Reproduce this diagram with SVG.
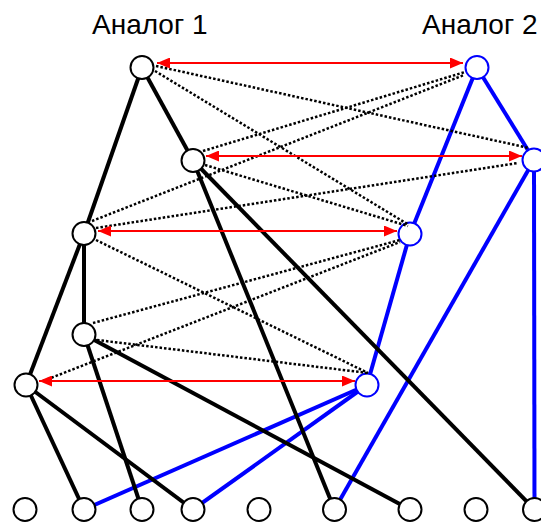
<svg xmlns="http://www.w3.org/2000/svg" width="541" height="522" viewBox="0 0 541 522">
  <style>
    .title { font-family: "Liberation Sans", Arial, sans-serif; font-size: 28px; fill: #000; }
    .edge-a { stroke: #000; stroke-width: 4; fill: none; }
    .edge-b { stroke: #0000ff; stroke-width: 4; fill: none; }
    .node-a { fill: #fff; stroke: #000; stroke-width: 2; }
    .node-b { fill: #fff; stroke: #0000ff; stroke-width: 2; }
    .cand { stroke: #000; stroke-width: 2.5; stroke-dasharray: 2.5 2; fill: none; }
    .map { stroke: #ff0000; stroke-width: 2; fill: none; marker-start: url(#head); marker-end: url(#head); }
  </style>
  <defs>
    <marker id="head" markerUnits="userSpaceOnUse" viewBox="0 0 13 11" refX="13" refY="5.5" markerWidth="13" markerHeight="11" orient="auto-start-reverse">
      <path d="M0,0 L13,5.5 L0,11 z" fill="#ff0000"/>
    </marker>
  </defs>

  <rect width="541" height="522" fill="#fff"/>

  <g id="labels">
    <text class="title" x="92" y="34">Аналог 1</text>
    <text class="title" x="422" y="34">Аналог 2</text>
  </g>

  <!-- tree edges -->
  <g id="edges">
    <g id="edges-tree2">
      <line class="edge-b" x1="477" y1="67.5" x2="534" y2="160"/>
      <line class="edge-b" x1="477" y1="67.5" x2="410" y2="234"/>
      <line class="edge-b" x1="410" y1="234" x2="367" y2="385"/>
      <line class="edge-b" x1="367" y1="385" x2="84" y2="509.5"/>
      <line class="edge-b" x1="367" y1="385" x2="193" y2="509.5"/>
      <line class="edge-b" x1="534" y1="160" x2="334.5" y2="509.5"/>
      <line class="edge-b" x1="534" y1="160" x2="534.5" y2="509.5"/>
    </g>
    <g id="edges-tree1">
      <line class="edge-a" x1="142" y1="67.5" x2="84" y2="233.5"/>
      <line class="edge-a" x1="142" y1="67.5" x2="193" y2="160.5"/>
      <line class="edge-a" x1="84" y1="233.5" x2="84" y2="334.5"/>
      <line class="edge-a" x1="84" y1="233.5" x2="26" y2="385"/>
      <line class="edge-a" x1="193" y1="160.5" x2="334.5" y2="509.5"/>
      <line class="edge-a" x1="193" y1="160.5" x2="534.5" y2="509.5"/>
      <line class="edge-a" x1="84" y1="334.5" x2="142" y2="509.5"/>
      <line class="edge-a" x1="84" y1="334.5" x2="410" y2="509.5"/>
      <line class="edge-a" x1="26" y1="385" x2="84" y2="509.5"/>
      <line class="edge-a" x1="26" y1="385" x2="193" y2="509.5"/>
    </g>
  </g>

  <!-- inner nodes of tree 1 -->
  <g id="a1"><circle class="node-a" cx="142" cy="67.5" r="11.5"/></g>
  <g id="a2"><circle class="node-a" cx="193" cy="160.5" r="11.5"/></g>
  <g id="a3"><circle class="node-a" cx="84" cy="233.5" r="11.5"/></g>
  <g id="a4"><circle class="node-a" cx="84" cy="334.5" r="11.5"/></g>
  <g id="a5"><circle class="node-a" cx="26" cy="385" r="11.5"/></g>

  <!-- inner nodes of tree 2 -->
  <g id="b1"><circle class="node-b" cx="477" cy="67.5" r="11.5"/></g>
  <g id="b2"><circle class="node-b" cx="534" cy="160" r="11.5"/></g>
  <g id="b3"><circle class="node-b" cx="410" cy="234" r="11.5"/></g>
  <g id="b4"><circle class="node-b" cx="367" cy="385" r="11.5"/></g>

  <!-- shared leaves -->
  <g id="leaf1"><circle class="node-a" cx="25" cy="509.5" r="11.5"/></g>
  <g id="leaf2"><circle class="node-a" cx="84" cy="509.5" r="11.5"/></g>
  <g id="leaf3"><circle class="node-a" cx="142" cy="509.5" r="11.5"/></g>
  <g id="leaf4"><circle class="node-a" cx="193" cy="509.5" r="11.5"/></g>
  <g id="leaf5"><circle class="node-a" cx="259" cy="509.5" r="11.5"/></g>
  <g id="leaf6"><circle class="node-a" cx="334.5" cy="509.5" r="11.5"/></g>
  <g id="leaf7"><circle class="node-a" cx="410" cy="509.5" r="11.5"/></g>
  <g id="leaf8"><circle class="node-a" cx="476" cy="509.5" r="11.5"/></g>
  <g id="leaf9"><circle class="node-a" cx="534.5" cy="509.5" r="11.5"/></g>

  <!-- candidate correspondences -->
  <g id="candidates">
    <line class="cand" x1="156" y1="66" x2="529" y2="148"/>
    <line class="cand" x1="155" y1="71" x2="409" y2="225"/>
    <line class="cand" x1="203" y1="151" x2="465" y2="72"/>
    <line class="cand" x1="205" y1="165" x2="408" y2="226"/>
    <line class="cand" x1="92" y1="221" x2="464" y2="75"/>
    <line class="cand" x1="96" y1="228" x2="518" y2="163"/>
    <line class="cand" x1="96" y1="240" x2="368" y2="373"/>
    <line class="cand" x1="93" y1="323" x2="400" y2="240"/>
    <line class="cand" x1="97" y1="340" x2="368" y2="373"/>
    <line class="cand" x1="43" y1="381" x2="400" y2="242"/>
  </g>

  <!-- chosen mapping -->
  <g id="mapping">
    <line class="map" x1="157" y1="63" x2="463" y2="63"/>
    <line class="map" x1="206" y1="156" x2="522" y2="156"/>
    <line class="map" x1="98" y1="231" x2="397" y2="231"/>
    <line class="map" x1="39" y1="381" x2="355" y2="381"/>
  </g>
</svg>
